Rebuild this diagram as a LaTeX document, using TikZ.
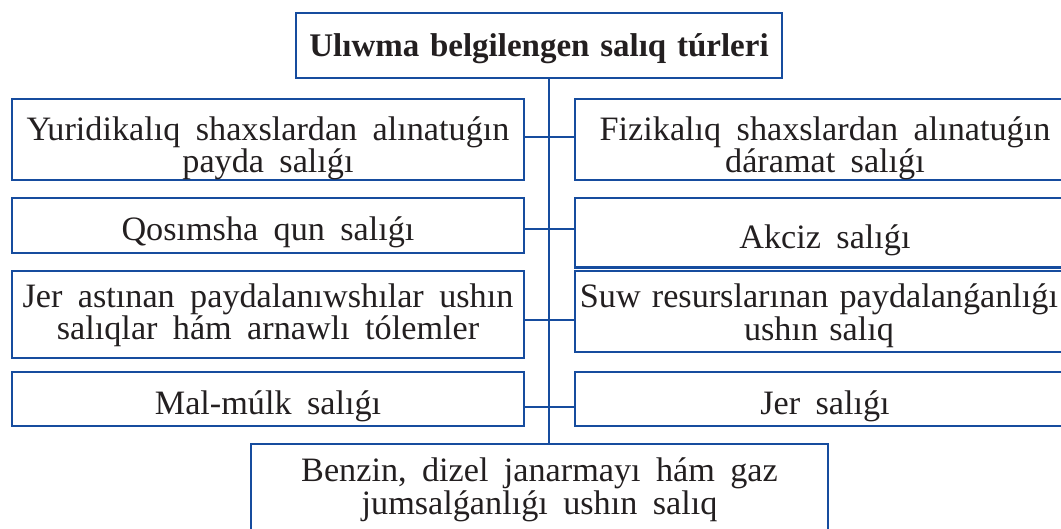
\documentclass[tikz,border=0pt]{standalone}
\usepackage{fontspec}
\setmainfont{Liberation Serif}[WordSpace=1.8]
\newfontfamily\hdfont{Liberation Serif}[WordSpace=1.2]
\newfontfamily\tightfont{Liberation Serif}[WordSpace=1.3]
\definecolor{boxblue}{RGB}{22,76,158}
\definecolor{txt}{RGB}{35,31,32}
\tikzset{
  box/.style={draw=boxblue, line width=2.8pt, rectangle, inner sep=0pt},
  lbl/.style={inner sep=0pt, align=center, text=txt, font=\fontsize{34.2}{32.5}\selectfont},
  link/.style={draw=boxblue, line width=2pt}
}
\begin{document}
\begin{tikzpicture}[x=1pt,y=-1pt]
\useasboundingbox (0,0) rectangle (1061,528);
\clip (0,0) rectangle (1061,528);
% boxes
\node[box, minimum width=486pt, minimum height=65pt] (top) at (539,45.5) {};
\node[box, minimum width=512pt, minimum height=81pt] (l1) at (268,139.5) {};
\node[box, minimum width=512pt, minimum height=55pt] (l2) at (268,225.5) {};
\node[box, minimum width=512pt, minimum height=87pt] (l3) at (268,314.5) {};
\node[box, minimum width=512pt, minimum height=54pt] (l4) at (268,399) {};
\node[box, minimum width=500pt, minimum height=81pt] (r1) at (825,139.5) {};
\node[box, minimum width=500pt, minimum height=69.5pt] (r2) at (825,232.75) {};
\node[box, minimum width=500pt, minimum height=81pt] (r3) at (825,311.5) {};
\node[box, minimum width=500pt, minimum height=54pt] (r4) at (825,399) {};
\node[box, minimum width=577pt, minimum height=96pt] (bot) at (539.5,492) {};
% texts
\node[lbl, font=\hdfont\bfseries\fontsize{33}{31.5}\selectfont] (topt) at ([yshift=-3pt]top.center) {Ulıwma belgilengen salıq túrleri};
\node[lbl] (l1t) at ([yshift=-9pt]l1.center) {Yuridikalıq shaxslardan alınatuǵın\\payda salıǵı};
\node[lbl] (l2t) at ([yshift=-7pt]l2.center) {Qosımsha qun salıǵı};
\node[lbl] (l3t) at ([yshift=-1pt]l3.center) {Jer astınan paydalanıwshılar ushın\\salıqlar hám arnawlı tólemler};
\node[lbl] (l4t) at ([yshift=-7pt]l4.center) {Mal-múlk salıǵı};
\node[lbl] (r1t) at ([yshift=-9pt]r1.center) {Fizikalıq shaxslardan alınatuǵın\\dáramat salıǵı};
\node[lbl] (r2t) at ([yshift=-8pt]r2.center) {Akciz salıǵı};
\node[lbl, font=\tightfont\fontsize{34.2}{32.5}\selectfont] (r3t) at ([xshift=-6pt,yshift=-4pt]r3.center) {Suw resurslarınan paydalanǵanlıǵı\\ushın salıq};
\node[lbl] (r4t) at ([yshift=-7pt]r4.center) {Jer salıǵı};
\node[lbl] (bott) at ([yshift=2pt]bot.center) {Benzin, dizel janarmayı hám gaz\\jumsalǵanlıǵı ushın salıq};
% spine and junctions
\coordinate (spine) at (549,0);
\coordinate (j1) at (549,137);
\coordinate (j2) at (549,229);
\coordinate (j3) at (549,320);
\coordinate (j4) at (549,407);
\draw[link] (top.south -| spine) -- (bot.north -| spine);
\draw[link] (l1.east |- j1) -- (r1.west |- j1);
\draw[link] (l2.east |- j2) -- (r2.west |- j2);
\draw[link] (l3.east |- j3) -- (r3.west |- j3);
\draw[link] (l4.east |- j4) -- (r4.west |- j4);
\end{tikzpicture}
\end{document}
